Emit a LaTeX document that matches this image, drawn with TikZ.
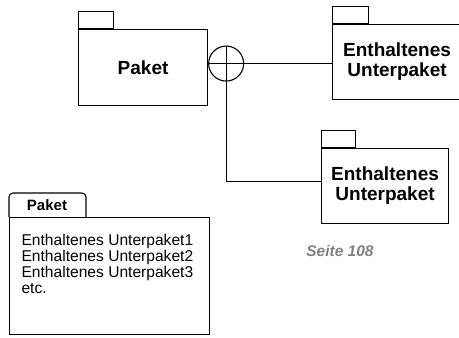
\documentclass[tikz,border=0pt]{standalone}
\usepackage{fontspec}
\setmainfont{Liberation Sans}
\usetikzlibrary{positioning}
\definecolor{pagegray}{RGB}{128,128,128}

\begin{document}
\begin{tikzpicture}[x=1pt, y=-1pt, line width=1.1pt,
    pkg/.style={rectangle, draw, minimum width=129pt, minimum height=76pt,
                inner sep=0pt, align=center, font=\fontsize{19}{20}\selectfont\bfseries},
    tab/.style={rectangle, draw, minimum width=35pt, minimum height=17pt,
                inner sep=0pt, anchor=south west}
]
    \useasboundingbox (0,0) rectangle (459,338);

    % Paket Box
    \node[pkg, anchor=north west] (paket) at (78,29) {Paket};
    \node[tab] (paket tab) at (paket.north west) {};

    % Containment circle
    \node[circle, draw, minimum size=35pt, inner sep=0pt, right=0pt of paket.east, anchor=west, yshift=4pt] (join) {};
    \draw (join.north) -- (join.south);

    % Unterpaket Boxes
    \node[pkg, anchor=north west, minimum height=75pt] (sub1) at (332,24) {Enthaltenes\\Unterpaket};
    \node[tab, minimum width=36pt] (sub1 tab) at (sub1.north west) {};
    \node[pkg, anchor=north west, minimum width=127pt, minimum height=75pt] (sub2) at (321,148) {Enthaltenes\\Unterpaket};
    \node[tab, minimum width=34pt] (sub2 tab) at (sub2.north west) {};

    % Connectors
    \coordinate (bend) at (join.center |- 0,181.5);
    \draw (join.west) -- (join.center -| sub1.west);
    \draw (join.south) -- (bend) -- (bend -| sub2.west);

    % Paket list box
    \node[draw, anchor=north west, minimum width=200pt, minimum height=117pt, inner sep=0pt] (list) at (9,217) {};
    \draw[rounded corners=4pt] (list.north west) -- ++(0,-24) -- ++(77,0) -- ++(0,24);
    \node[font=\fontsize{15}{16}\selectfont\bfseries] (list title) at (47,205) {Paket};
    \node[anchor=north west, inner sep=0pt, align=left, font=\fontsize{15.6}{16}\selectfont] (list text) at (21,234)
        {Enthaltenes Unterpaket1\\Enthaltenes Unterpaket2\\Enthaltenes Unterpaket3\\etc.};

    % Page note
    \node[font=\fontsize{15.5}{16}\selectfont\bfseries\itshape, text=pagegray] (page) at (340,251) {Seite 108};
\end{tikzpicture}
\end{document}
